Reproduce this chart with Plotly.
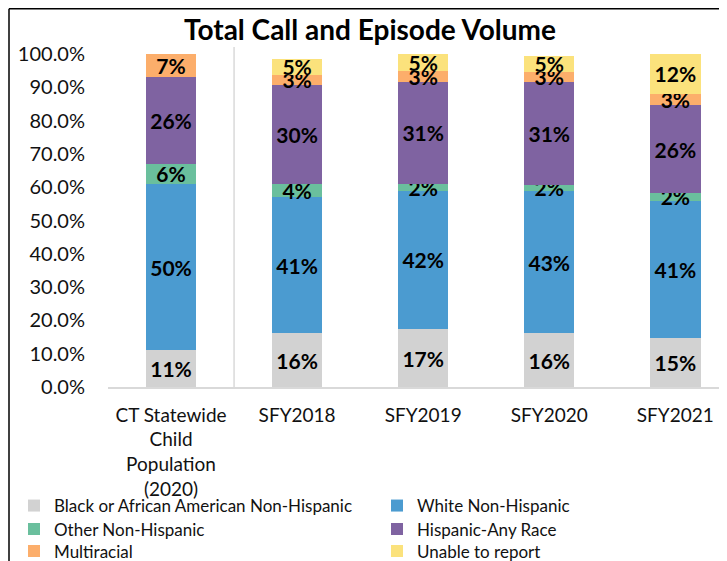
import plotly.graph_objects as go

categories = ["CT Statewide<br>Child<br>Population<br>(2020)", "SFY2018", "SFY2019", "SFY2020", "SFY2021"]
series_names = ["Black or African American Non-Hispanic", "White Non-Hispanic", "Other Non-Hispanic",
                "Hispanic-Any Race", "Multiracial", "Unable to report"]
black = [11, 16.2, 17.4, 16.2, 14.7]
white = [50, 40.8, 41.6, 42.6, 41.3]
other = [6, 4.1, 2.0, 2.0, 2.2]
hispanic = [26, 29.7, 30.6, 30.7, 26.4]
multiracial = [7, 3.0, 3.3, 3.2, 3.4]
unable = [0, 4.7, 5.0, 4.8, 12.1]
y_ticks = [0, 10, 20, 30, 40, 50, 60, 70, 80, 90, 100]

series_values = [black, white, other, hispanic, multiracial, unable]
colors = ["#D2D2D2", "#4B9BD0", "#6ABF9D", "#7F63A1", "#FCAE6B", "#FBE27C"]

# legend grid placement (2 columns x 3 rows), in pixels of the figure
W, H = 719, 553
L, T, B = 100, 39, 174
PW, PH = W - L, H - T - B
legend_text_x = [46, 409]
legend_row_y = [498, 521.5, 543.5]

FONT = "Lato"
fig = go.Figure()
legend_layouts = {}
for i, (name, vals, col) in enumerate(zip(series_names, series_values, colors)):
    key = "legend" if i == 0 else f"legend{i + 1}"
    fig.add_trace(go.Bar(
        x=categories, y=vals, name=name, marker=dict(color=col, line=dict(width=0)),
        width=0.4, legend=key,
        text=[f"{round(v)}%" if v > 0 else "" for v in vals],
        textposition="inside", insidetextanchor="middle", textangle=0,
        textfont=dict(family=FONT, size=21, color="black", weight="bold"),
        constraintext="none", cliponaxis=False, hoverinfo="skip",
    ))
    col_i, row_i = i % 2, i // 2
    legend_layouts[key] = dict(
        orientation="v", x=(legend_text_x[col_i] - 40 - L) / PW, xanchor="left",
        yref="container", y=1 - legend_row_y[row_i] / H, yanchor="middle",
        bgcolor="rgba(0,0,0,0)", font=dict(family=FONT, size=17, color="#111"),
        itemwidth=30,
    )

fig.update_layout(
    barmode="stack",
    width=W, height=H,
    margin=dict(l=L, r=0, t=T, b=B, pad=0, autoexpand=False),
    paper_bgcolor="white", plot_bgcolor="white",
    title=dict(text="<b>Total Call and Episode Volume</b>", x=362 / W, xref="container", xanchor="center",
               y=1 - 22 / H, yref="container", yanchor="middle",
               font=dict(family=FONT, size=28, color="black")),
    uniformtext=dict(minsize=21, mode="show"),
    font=dict(family=FONT, color="black"),
    xaxis=dict(range=[-0.5, 4.41], showgrid=False, showline=True, linecolor="#D9D9D9", linewidth=1.5,
               tickfont=dict(family=FONT, size=19, color="#111"), ticks="", ticklabelstandoff=10,
               tickangle=0),
    yaxis=dict(range=[0, 102.1], tickvals=y_ticks, ticktext=[f"{v:.1f}%" for v in y_ticks],
               showgrid=False, showline=False, zeroline=False, ticks="", ticklabelstandoff=22,
               tickfont=dict(family=FONT, size=20, color="#111")),
    showlegend=True,
    **legend_layouts,
)
# separator between population and fiscal years
fig.add_shape(type="line", xref="x", yref="y", x0=0.5, x1=0.5, y0=0, y1=102.1,
              line=dict(color="#D9D9D9", width=1.5))
# chart frame: left and top edges
frame_x = (1 - L) / PW
frame_top = (PH + T - 0.75) / PH
fig.add_shape(type="line", xref="paper", yref="paper", x0=frame_x, x1=frame_x, y0=-B / PH, y1=frame_top,
              line=dict(color="black", width=1.5))
fig.add_shape(type="line", xref="paper", yref="paper", x0=frame_x, x1=1.0, y0=frame_top, y1=frame_top,
              line=dict(color="black", width=1.5))
fig.write_html("out.html")
